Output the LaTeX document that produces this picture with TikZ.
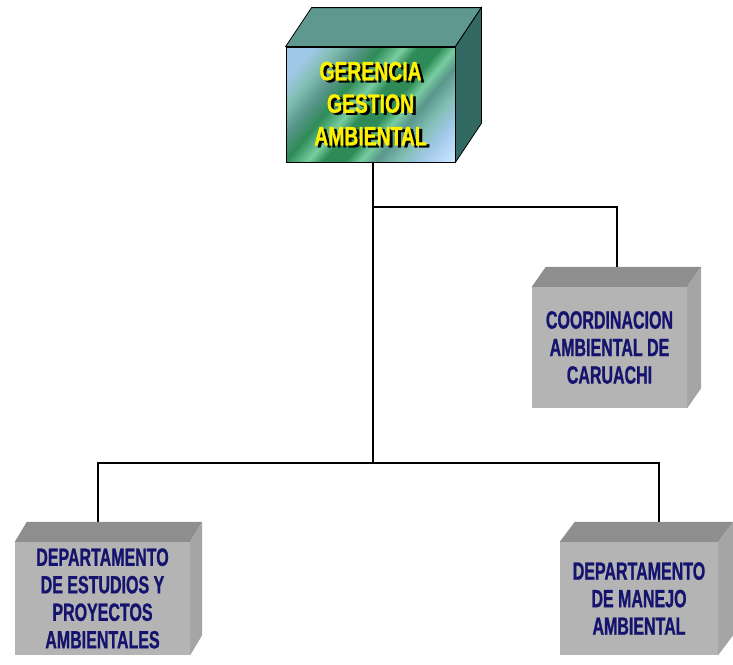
\documentclass[tikz,border=0pt]{standalone}
\usepackage{fontspec}
\newfontfamily\orgfont{Liberation Sans}[FakeStretch=0.64, BoldFeatures={FakeBold=0.9}]
\newfontfamily\gerfont{Liberation Sans}[FakeStretch=0.73, BoldFeatures={FakeBold=0.9}]

\definecolor{navytxt}{RGB}{20,20,110}
\definecolor{greyfrontcol}{RGB}{180,180,180}
\definecolor{greytopcol}{RGB}{142,142,142}
\definecolor{greysidecol}{RGB}{165,165,165}
\definecolor{gertopcol}{RGB}{95,152,143}
\definecolor{gersidecol}{RGB}{50,105,98}
\definecolor{stripeA}{RGB}{160,200,232}
\definecolor{stripeB}{RGB}{130,190,180}
\definecolor{stripeC}{RGB}{90,150,140}
\definecolor{stripeD}{RGB}{46,139,87}
\definecolor{stripeE}{RGB}{120,205,160}
\definecolor{stripeF}{RGB}{200,230,255}

\pgfdeclarehorizontalshading{gerstripes}{100bp}{color(0bp)=(stripeA); color(22bp)=(stripeA);
  color(28bp)=(stripeB); color(34bp)=(stripeC); color(40bp)=(stripeD); color(46bp)=(stripeE);
  color(50bp)=(stripeD); color(56bp)=(stripeD); color(60bp)=(stripeE); color(64bp)=(stripeC); color(70bp)=(stripeB); color(76bp)=(stripeA);
  color(84bp)=(stripeF); color(100bp)=(stripeF)}

\newcommand\shtext[1]{\makebox[0pt][l]{\hspace{3pt}\raisebox{-2pt}{\color{black}#1}}#1}

\begin{document}
\begin{tikzpicture}[x=1pt,y=-1pt,
    boxtext/.style={inner sep=0pt, align=center, font=\orgfont\bfseries\fontsize{25}{27.5}\selectfont, text=navytxt},
    greyfront/.style={boxtext, fill=greyfrontcol},
    orgline/.style={line width=1.3pt, black}]
    \useasboundingbox (0,0) rectangle (733,664);

    \coordinate (fork) at (373,207);
    \coordinate (hub) at (373,463);

    \node[inner sep=0pt, minimum width=169pt, minimum height=115pt, shading=gerstripes, shading angle=-40, draw=black, line width=0.8pt,
        align=center, font=\gerfont\bfseries\fontsize{26.5}{32.5}\selectfont, text=yellow] (gga) at (370.5,104.5)
        {\shtext{GERENCIA}\\\shtext{GESTION}\\\shtext{AMBIENTAL}};
    \node[greyfront, minimum width=155pt, minimum height=121pt] (cac) at (609.5,347.5) {COORDINACION\\AMBIENTAL DE\\CARUACHI};
    \node[greyfront, minimum width=175pt, minimum height=113pt] (dep) at (102.5,598.5) {DEPARTAMENTO\\DE ESTUDIOS Y\\PROYECTOS\\AMBIENTALES};
    \node[greyfront, minimum width=158pt, minimum height=113pt] (dma) at (639,598.5) {DEPARTAMENTO\\DE MANEJO\\AMBIENTAL};

    \draw[orgline] (gga.south -| fork) -- (hub);
    \draw[orgline] (fork) -| ([shift={(7.5,-20)}]cac.north);
    \draw[orgline] ([shift={(-4.5,-20)}]dep.north) |- (hub) -| ([shift={(20,-20)}]dma.north);

    \fill[gertopcol, draw=black, line width=0.8pt] (gga.north west) -- ++(26,-39) -- ([shift={(26,-39)}]gga.north east) -- (gga.north east) -- cycle;
    \fill[gersidecol, draw=black, line width=0.8pt] (gga.north east) -- ([shift={(26,-39)}]gga.north east) -- ([shift={(26,-39)}]gga.south east) -- (gga.south east) -- cycle;

    \fill[greytopcol] (cac.north west) -- ++(14,-20) -- ([shift={(14,-20)}]cac.north east) -- (cac.north east) -- cycle;
    \fill[greysidecol] (cac.north east) -- ([shift={(14,-20)}]cac.north east) -- ([shift={(14,-20)}]cac.south east) -- (cac.south east) -- cycle;
    \fill[greytopcol] (dep.north west) -- ++(12,-20) -- ([shift={(12,-20)}]dep.north east) -- (dep.north east) -- cycle;
    \fill[greysidecol] (dep.north east) -- ([shift={(12,-20)}]dep.north east) -- ([shift={(12,-20)}]dep.south east) -- (dep.south east) -- cycle;
    \fill[greytopcol] (dma.north west) -- ++(15,-20) -- ([shift={(15,-20)}]dma.north east) -- (dma.north east) -- cycle;
    \fill[greysidecol] (dma.north east) -- ([shift={(15,-20)}]dma.north east) -- ([shift={(15,-20)}]dma.south east) -- (dma.south east) -- cycle;
\end{tikzpicture}
\end{document}
